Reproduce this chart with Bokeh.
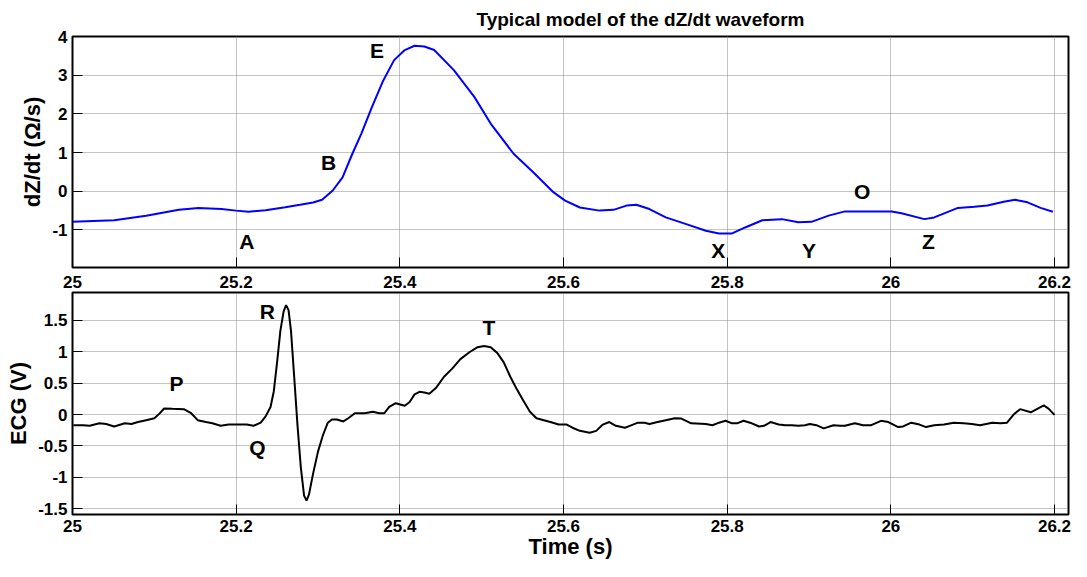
from bokeh.plotting import figure
from bokeh.layouts import column
from bokeh.models import ColumnDataSource, FixedTicker, NumeralTickFormatter, Range1d
from bokeh.core.properties import value
from bokeh.embed import file_html
from bokeh.resources import INLINE

# ---------------- data ----------------
t_dz = [25.000, 25.051, 25.090, 25.130, 25.154, 25.182, 25.200, 25.215, 25.236, 25.260,
        25.278, 25.294, 25.305, 25.318, 25.330, 25.342, 25.353, 25.366, 25.379, 25.393,
        25.406, 25.418, 25.430, 25.442, 25.466, 25.491, 25.511, 25.539, 25.563, 25.588,
        25.602, 25.620, 25.644, 25.661, 25.677, 25.689, 25.705, 25.725, 25.750, 25.774,
        25.790, 25.806, 25.822, 25.843, 25.867, 25.887, 25.903, 25.924, 25.944, 26.001,
        26.013, 26.041, 26.053, 26.082, 26.102, 26.118, 26.138, 26.152, 26.167, 26.183,
        26.198]
dz = [-0.79, -0.75, -0.63, -0.475, -0.43, -0.46, -0.50, -0.53, -0.49, -0.415,
      -0.35, -0.29, -0.22, 0.02, 0.36, 0.97, 1.49, 2.18, 2.83, 3.39,
      3.65, 3.76, 3.74, 3.65, 3.13, 2.44, 1.75, 0.97, 0.49, -0.03,
      -0.24, -0.42, -0.50, -0.48, -0.37, -0.35, -0.46, -0.675, -0.85, -1.02,
      -1.09, -1.09, -0.935, -0.75, -0.72, -0.80, -0.79, -0.63, -0.52, -0.52,
      -0.57, -0.72, -0.675, -0.43, -0.40, -0.37, -0.27, -0.22, -0.285, -0.43,
      -0.53]

t_ecg = [25.001, 25.013, 25.021, 25.033, 25.041, 25.051, 25.064, 25.072, 25.080, 25.090,
         25.100, 25.106, 25.112, 25.122, 25.136, 25.145, 25.153, 25.163, 25.171, 25.181,
         25.191, 25.203, 25.213, 25.221, 25.230, 25.236, 25.242, 25.246, 25.250, 25.254,
         25.258, 25.261, 25.264, 25.267, 25.271, 25.275, 25.279, 25.283, 25.286, 25.289,
         25.294, 25.300, 25.306, 25.312, 25.317, 25.323, 25.331, 25.337, 25.345, 25.357,
         25.367, 25.375, 25.381, 25.387, 25.395, 25.406, 25.412, 25.418, 25.424, 25.430,
         25.436, 25.444, 25.454, 25.464, 25.474, 25.485, 25.495, 25.503, 25.511, 25.519,
         25.527, 25.535, 25.543, 25.551, 25.559, 25.567, 25.576, 25.584, 25.594, 25.604,
         25.611, 25.620, 25.632, 25.640, 25.648, 25.656, 25.664, 25.675, 25.681, 25.691,
         25.699, 25.705, 25.715, 25.725, 25.736, 25.744, 25.756, 25.774, 25.782, 25.790,
         25.798, 25.806, 25.812, 25.820, 25.828, 25.839, 25.845, 25.853, 25.863, 25.871,
         25.879, 25.887, 25.895, 25.901, 25.909, 25.918, 25.930, 25.938, 25.944, 25.956,
         25.966, 25.976, 25.988, 25.997, 26.009, 26.015, 26.025, 26.035, 26.043, 26.053,
         26.065, 26.077, 26.089, 26.099, 26.109, 26.124, 26.134, 26.142, 26.150, 26.158,
         26.171, 26.179, 26.187, 26.193, 26.200]
ecg = [-0.17, -0.17, -0.18, -0.14, -0.15, -0.19, -0.14, -0.15, -0.12, -0.09,
       -0.06, 0.01, 0.095, 0.09, 0.085, 0.02, -0.09, -0.12, -0.14, -0.18,
       -0.16, -0.16, -0.16, -0.18, -0.13, -0.03, 0.12, 0.37, 0.83, 1.33,
       1.64, 1.74, 1.66, 1.33, 0.58, -0.18, -0.84, -1.29, -1.37, -1.27,
       -0.94, -0.59, -0.33, -0.13, -0.08, -0.08, -0.11, -0.06, 0.02, 0.02,
       0.045, 0.02, 0.02, 0.12, 0.18, 0.14, 0.20, 0.32, 0.36, 0.35,
       0.33, 0.42, 0.60, 0.73, 0.88, 0.99, 1.07, 1.09, 1.07, 0.98,
       0.83, 0.60, 0.40, 0.22, 0.045, -0.06, -0.09, -0.12, -0.16, -0.16,
       -0.21, -0.26, -0.29, -0.26, -0.16, -0.12, -0.18, -0.21, -0.18, -0.13,
       -0.13, -0.15, -0.12, -0.09, -0.06, -0.065, -0.14, -0.15, -0.17, -0.13,
       -0.10, -0.14, -0.14, -0.10, -0.13, -0.19, -0.18, -0.12, -0.16, -0.17,
       -0.17, -0.18, -0.17, -0.15, -0.17, -0.22, -0.17, -0.18, -0.18, -0.14,
       -0.17, -0.17, -0.10, -0.12, -0.20, -0.19, -0.13, -0.16, -0.20, -0.17,
       -0.16, -0.13, -0.14, -0.15, -0.17, -0.13, -0.14, -0.13, 0.00, 0.085,
       0.035, 0.09, 0.145, 0.09, -0.005]

dz_marks = ["E", "B", "A", "X", "Y", "O", "Z"]
dz_mark_t = [25.372, 25.313, 25.213, 25.789, 25.900, 25.965, 26.046]
dz_mark_v = [3.65, 0.745, -1.31, -1.54, -1.54, -0.01, -1.31]

ecg_marks = ["P", "Q", "R", "T"]
ecg_mark_t = [25.127, 25.226, 25.238, 25.509]
ecg_mark_v = [0.50, -0.52, 1.64, 1.38]

x_ticks = [25.0, 25.2, 25.4, 25.6, 25.8, 26.0, 26.2]
dz_ticks = [-1, 0, 1, 2, 3, 4]
ecg_ticks = [-1.5, -1, -0.5, 0, 0.5, 1, 1.5]

title_text = "Typical model of the dZ/dt waveform"
dz_ylabel = "dZ/dt (\u03a9/s)"
ecg_ylabel = "ECG (V)"
xlabel = "Time (s)"

# ---------------- styling ----------------
FONT = "Liberation Sans"
W = 1071
X_RANGE = (25.0, 26.2171)


def style(p, yticks):
    p.xaxis.ticker = FixedTicker(ticks=x_ticks)
    p.yaxis.ticker = FixedTicker(ticks=yticks)
    p.xaxis.formatter = NumeralTickFormatter(format="0.[0]")
    p.yaxis.formatter = NumeralTickFormatter(format="0.[0]")
    for ax in p.axis:
        ax.major_label_text_font = FONT
        ax.major_label_text_font_style = "bold"
        ax.major_label_text_font_size = "17px"
        ax.major_label_text_color = "black"
        ax.major_tick_in = 10
        ax.major_tick_out = 0
        ax.major_tick_line_color = "black"
        ax.minor_tick_line_color = None
        ax.axis_line_color = None
        ax.axis_label_text_font = FONT
        ax.axis_label_text_font_style = "bold"
        ax.axis_label_text_font_size = "22px"
        ax.axis_label_text_color = "black"
    p.yaxis.major_label_standoff = 5
    p.yaxis.axis_label_standoff = 4
    p.grid.grid_line_color = "#888888"
    p.grid.grid_line_dash = "1 1"
    p.grid.grid_line_width = 1
    p.outline_line_color = "black"
    p.outline_line_width = 2
    p.background_fill_color = "white"
    p.border_fill_color = "white"


# ---------------- top: dZ/dt ----------------
p1 = figure(width=W, height=290, output_backend="svg", toolbar_location=None,
            x_range=Range1d(*X_RANGE), y_range=Range1d(-1.97, 4.0),
            min_border_left=72, min_border_right=3, min_border_top=0, min_border_bottom=0)
p1.title.text = title_text
p1.title.text_font = FONT
p1.title.text_font_style = "bold"
p1.title.text_font_size = "19px"
p1.title.text_color = "black"
p1.title.align = "left"
p1.title.offset = 404
p1.title.standoff = 13
p1.yaxis.axis_label = dz_ylabel
style(p1, dz_ticks)
p1.xaxis.major_label_standoff = 8

src_dz = ColumnDataSource(dict(t=t_dz, v=dz))
p1.line("t", "v", source=src_dz, line_color="#0000ff", line_width=2)
src_dzm = ColumnDataSource(dict(t=dz_mark_t, v=dz_mark_v, lab=dz_marks))
p1.text("t", "v", text="lab", source=src_dzm, text_font=value(FONT), text_font_style="bold",
        text_font_size="21px", text_align="center", text_baseline="middle", text_color="black")

# ---------------- bottom: ECG ----------------
p2 = figure(width=W, height=271, output_backend="svg", toolbar_location=None,
            x_range=p1.x_range, y_range=Range1d(-1.59, 1.94),
            min_border_left=72, min_border_right=3, min_border_top=2, min_border_bottom=0)
p2.yaxis.axis_label = ecg_ylabel
p2.xaxis.axis_label = xlabel
style(p2, ecg_ticks)
p2.xaxis.major_label_standoff = 5
p2.xaxis.axis_label_standoff = -1

src_ecg = ColumnDataSource(dict(t=t_ecg, v=ecg))
p2.line("t", "v", source=src_ecg, line_color="black", line_width=2)
src_ecgm = ColumnDataSource(dict(t=ecg_mark_t, v=ecg_mark_v, lab=ecg_marks))
p2.text("t", "v", text="lab", source=src_ecgm, text_font=value(FONT), text_font_style="bold",
        text_font_size="21px", text_align="center", text_baseline="middle", text_color="black")

layout = column(p1, p2, spacing=0)
open("out.html", "w").write(file_html(layout, INLINE))
